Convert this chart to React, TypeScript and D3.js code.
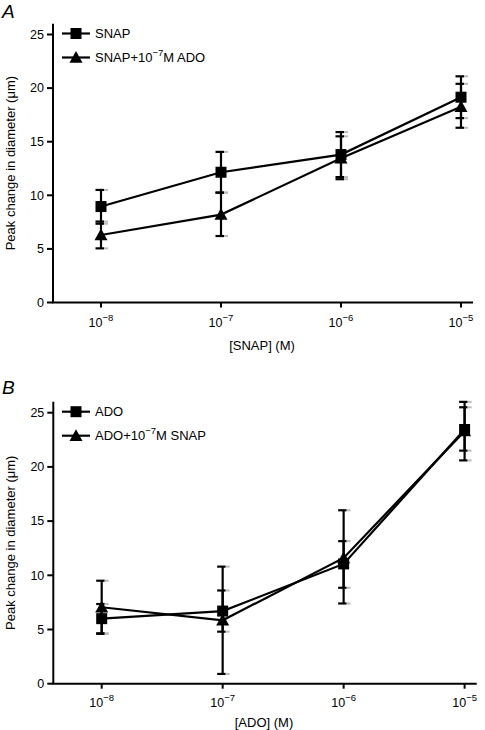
import React from "react";
import * as d3 from "d3";

const concentrations = [-8, -7, -6, -5]; // log10 M
const xTickExps = ["8", "7", "6", "5"];
const yTicks = [0, 5, 10, 15, 20, 25];

// Panel A
const snapMean = [8.95, 12.15, 13.8, 19.15];
const snapHi = [10.5, 14.05, 15.9, 21.1];
const snapLo = [7.35, 10.25, 11.7, 17.2];
const snapAdoMean = [6.3, 8.2, 13.45, 18.25];
const snapAdoHi = [7.55, 10.25, 15.5, 20.4];
const snapAdoLo = [5.05, 6.2, 11.5, 16.3];

// Panel B
const adoMean = [6.0, 6.7, 11.05, 23.45];
const adoHi = [7.35, 8.6, 13.15, 25.5];
const adoLo = [4.65, 4.8, 8.85, 21.5];
const adoSnapMean = [7.05, 5.85, 11.6, 23.3];
const adoSnapHi = [9.5, 10.8, 16.0, 26.0];
const adoSnapLo = [4.6, 0.9, 7.4, 20.6];

const FONT = "'Liberation Sans', Arial, Helvetica, sans-serif";

type Series = { mean: number[]; hi: number[]; lo: number[]; marker: "square" | "triangle" };

function Marker({ kind, x, y }: { kind: string; x: number; y: number }) {
  if (kind === "square") {
    return <rect x={x - 5.5} y={y - 5.5} width={11} height={11} fill="#000" />;
  }
  const s = 6.5;
  return <path d={`M${x},${y - s}L${x + s},${y + s * 0.8}L${x - s},${y + s * 0.8}Z`} fill="#000" />;
}

function Panel({
  letter, y0, yTop, xLeft, xRight, series, legend, xTitle, tickY, titleY, letterY,
}: {
  letter: string; y0: number; yTop: number; xLeft: number; xRight: number;
  series: Series[]; legend: { label: React.ReactNode; marker: string }[]; xTitle: string;
  tickY: number; titleY: number; letterY: number;
}) {
  const x = d3.scaleLinear().domain([-8.4, -4.9]).range([xLeft, xRight]);
  const y = d3.scaleLinear().domain([0, 26]).range([y0, yTop]);
  const line = d3.line<number>().x((_, i) => x(concentrations[i])).y((d) => y(d));
  const axisX = xLeft;
  return (
    <g>
      <text x={2} y={letterY} fontFamily={FONT} fontSize={19} fontStyle="italic">{letter}</text>
      {/* y axis */}
      <line x1={axisX} x2={axisX} y1={y(26)} y2={y(0)} stroke="#000" strokeWidth={2} />
      {yTicks.map((t) => (
        <g key={t}>
          <line x1={axisX - 6} x2={axisX} y1={y(t)} y2={y(t)} stroke="#000" strokeWidth={2} />
          <text x={axisX - 9} y={y(t)} dy="0.35em" textAnchor="end" fontFamily={FONT} fontSize={12.5}>{t}</text>
        </g>
      ))}
      <text
        transform={`translate(15,${(y(0) + y(26)) / 2}) rotate(-90)`}
        textAnchor="middle" fontFamily={FONT} fontSize={13}
      >Peak change in diameter (μm)</text>
      {/* x axis */}
      <line x1={axisX - 1} x2={xRight} y1={y(0)} y2={y(0)} stroke="#000" strokeWidth={2} />
      {concentrations.map((c, i) => (
        <g key={c}>
          <line x1={x(c)} x2={x(c)} y1={y(0)} y2={y(0) + 5} stroke="#000" strokeWidth={2} />
          <text x={x(c)} y={tickY} textAnchor="middle" fontFamily={FONT} fontSize={12.5}>
            10<tspan dy={-6} fontSize={9.5}>−{xTickExps[i]}</tspan>
          </text>
        </g>
      ))}
      <text x={(xLeft + xRight) / 2 - 1} y={titleY} textAnchor="middle" fontFamily={FONT} fontSize={13}>{xTitle}</text>
      {/* lines */}
      {series.map((s, k) => (
        <path key={"l" + k} d={line(s.mean) || ""} fill="none" stroke="#000" strokeWidth={2.2} />
      ))}
      {/* error bars */}
      {series.map((s, k) =>
        s.mean.map((m, i) => {
          const cx = x(concentrations[i]);
          return (
            <g key={"e" + k + i}>
              <line x1={cx} x2={cx} y1={y(s.hi[i])} y2={y(s.lo[i])} stroke="#000" strokeWidth={2.2} />
              {[s.hi[i], s.lo[i]].map((v, j) => (
                <g key={j}>
                  <line x1={cx - 5.5} x2={cx + 3} y1={y(v)} y2={y(v)} stroke="#000" strokeWidth={2.2} />
                  <line x1={cx + 3} x2={cx + 7} y1={y(v)} y2={y(v)} stroke="#bbb" strokeWidth={2} />
                </g>
              ))}
            </g>
          );
        })
      )}
      {/* markers: triangles first, squares on top */}
      {[...series].reverse().map((s, k) =>
        s.mean.map((m, i) => (
          <Marker key={"m" + k + i} kind={s.marker} x={x(concentrations[i])} y={y(m)} />
        ))
      )}
      {/* legend */}
      {legend.map((l, i) => {
        const ly = y(25) + i * 24 - 1;
        return (
          <g key={"lg" + i}>
            <line x1={62} x2={90} y1={ly} y2={ly} stroke="#000" strokeWidth={2.2} />
            <Marker kind={l.marker} x={76} y={ly} />
            <text x={95} y={ly} dy="0.35em" fontFamily={FONT} fontSize={13}>{l.label}</text>
          </g>
        );
      })}
    </g>
  );
}

export default function App() {
  React.useEffect(() => {
    document.body.style.margin = "0";
  }, []);
  return (
    <svg width={485} height={730} style={{ position: "absolute", left: 0, top: 0, background: "#fff" }}>
      <rect width={485} height={730} fill="#fff" />
      <Panel
        letter="A" letterY={18} y0={302.5} yTop={302.5 - 26 * 10.72} xLeft={53} xRight={473}
        series={[
          { mean: snapMean, hi: snapHi, lo: snapLo, marker: "square" },
          { mean: snapAdoMean, hi: snapAdoHi, lo: snapAdoLo, marker: "triangle" },
        ]}
        legend={[
          { label: "SNAP", marker: "square" },
          { label: <>SNAP+10<tspan dy={-6} fontSize={9.5}>−7</tspan><tspan dy={6}>M ADO</tspan></>, marker: "triangle" },
        ]}
        xTitle="[SNAP] (M)" tickY={327} titleY={350}
      />
      <Panel
        letter="B" letterY={394} y0={683.7} yTop={683.7 - 26 * 10.84} xLeft={53.3} xRight={476.7}
        series={[
          { mean: adoMean, hi: adoHi, lo: adoLo, marker: "square" },
          { mean: adoSnapMean, hi: adoSnapHi, lo: adoSnapLo, marker: "triangle" },
        ]}
        legend={[
          { label: "ADO", marker: "square" },
          { label: <>ADO+10<tspan dy={-6} fontSize={9.5}>−7</tspan><tspan dy={6}>M SNAP</tspan></>, marker: "triangle" },
        ]}
        xTitle="[ADO] (M)" tickY={707} titleY={727}
      />
    </svg>
  );
}
